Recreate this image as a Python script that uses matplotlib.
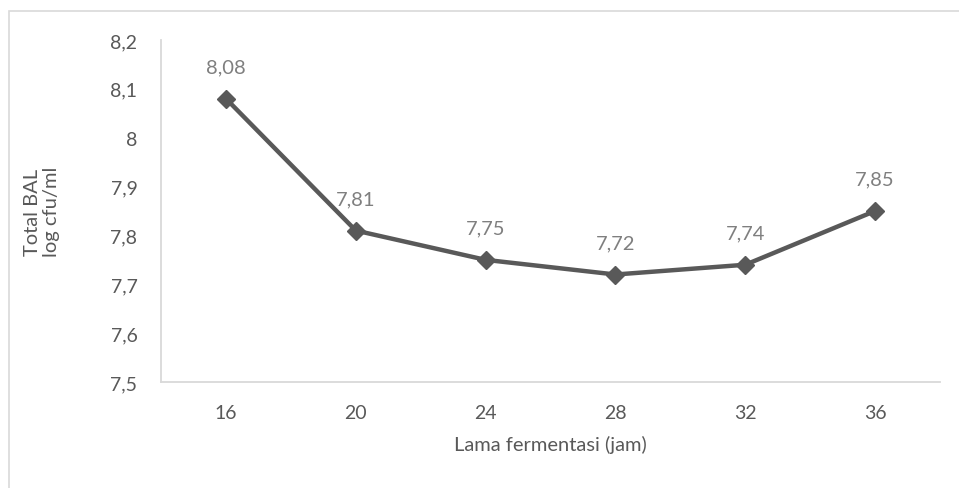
import matplotlib
matplotlib.use("Agg")
import matplotlib.pyplot as plt
from matplotlib.patches import Rectangle

# lama fermentasi (jam) vs total BAL (log cfu/ml)
jam = ["16", "20", "24", "28", "32", "36"]
total_bal = [8.08, 7.81, 7.75, 7.72, 7.74, 7.85]
label_bal = ["8,08", "7,81", "7,75", "7,72", "7,74", "7,85"]
yticks = [7.5, 7.6, 7.7, 7.8, 7.9, 8.0, 8.1, 8.2]
ytick_labels = ["7,5", "7,6", "7,7", "7,8", "7,9", "8", "8,1", "8,2"]

plt.rcParams['font.family'] = ['Lato', 'DejaVu Sans']
W, H = 959, 489
fig = plt.figure(figsize=(W / 100, H / 100), dpi=100)

# chart area border
fig.patches.append(Rectangle((8.5 / W, -0.2), 1.5, 1.2 - 11.5 / H,
                             transform=fig.transFigure, fill=False,
                             edgecolor='#d9d9d9', linewidth=1.2))

ax = fig.add_axes([161 / W, (H - 383) / H, 779 / W, 342 / H])
x = range(len(jam))
ax.plot(x, total_bal, color='#595959', linewidth=3.2, marker='D',
        markersize=9, markerfacecolor='#595959', markeredgecolor='#595959')

for i, v in enumerate(total_bal):
    ax.annotate(label_bal[i], (i, v), xytext=(0, 19), textcoords='offset points',
                ha='center', va='baseline', fontsize=14.5, color='#7f7f7f')

ax.set_xlim(-0.5, len(jam) - 0.5)
ax.set_ylim(7.5, 8.2)
ax.set_xticks(list(x))
ax.set_xticklabels(jam)
ax.set_yticks(yticks)
ax.set_yticklabels(ytick_labels)
ax.tick_params(axis='both', length=0, labelsize=14, labelcolor='#595959')
ax.tick_params(axis='x', pad=16)
ax.tick_params(axis='y', pad=17)

for s in ['top', 'right']:
    ax.spines[s].set_visible(False)
for s in ['left', 'bottom']:
    ax.spines[s].set_color('#d9d9d9')
    ax.spines[s].set_linewidth(1.3)

ax.set_xlabel('Lama fermentasi (jam)', fontsize=14.5, color='#595959', labelpad=10)
fig.text(42 / W, 1 - 212 / H, 'Total BAL\nlog cfu/ml', rotation=90,
         ha='center', va='center', fontsize=14.5, color='#595959',
         multialignment='center', linespacing=1.1)

fig.savefig('out.png', dpi=100)
